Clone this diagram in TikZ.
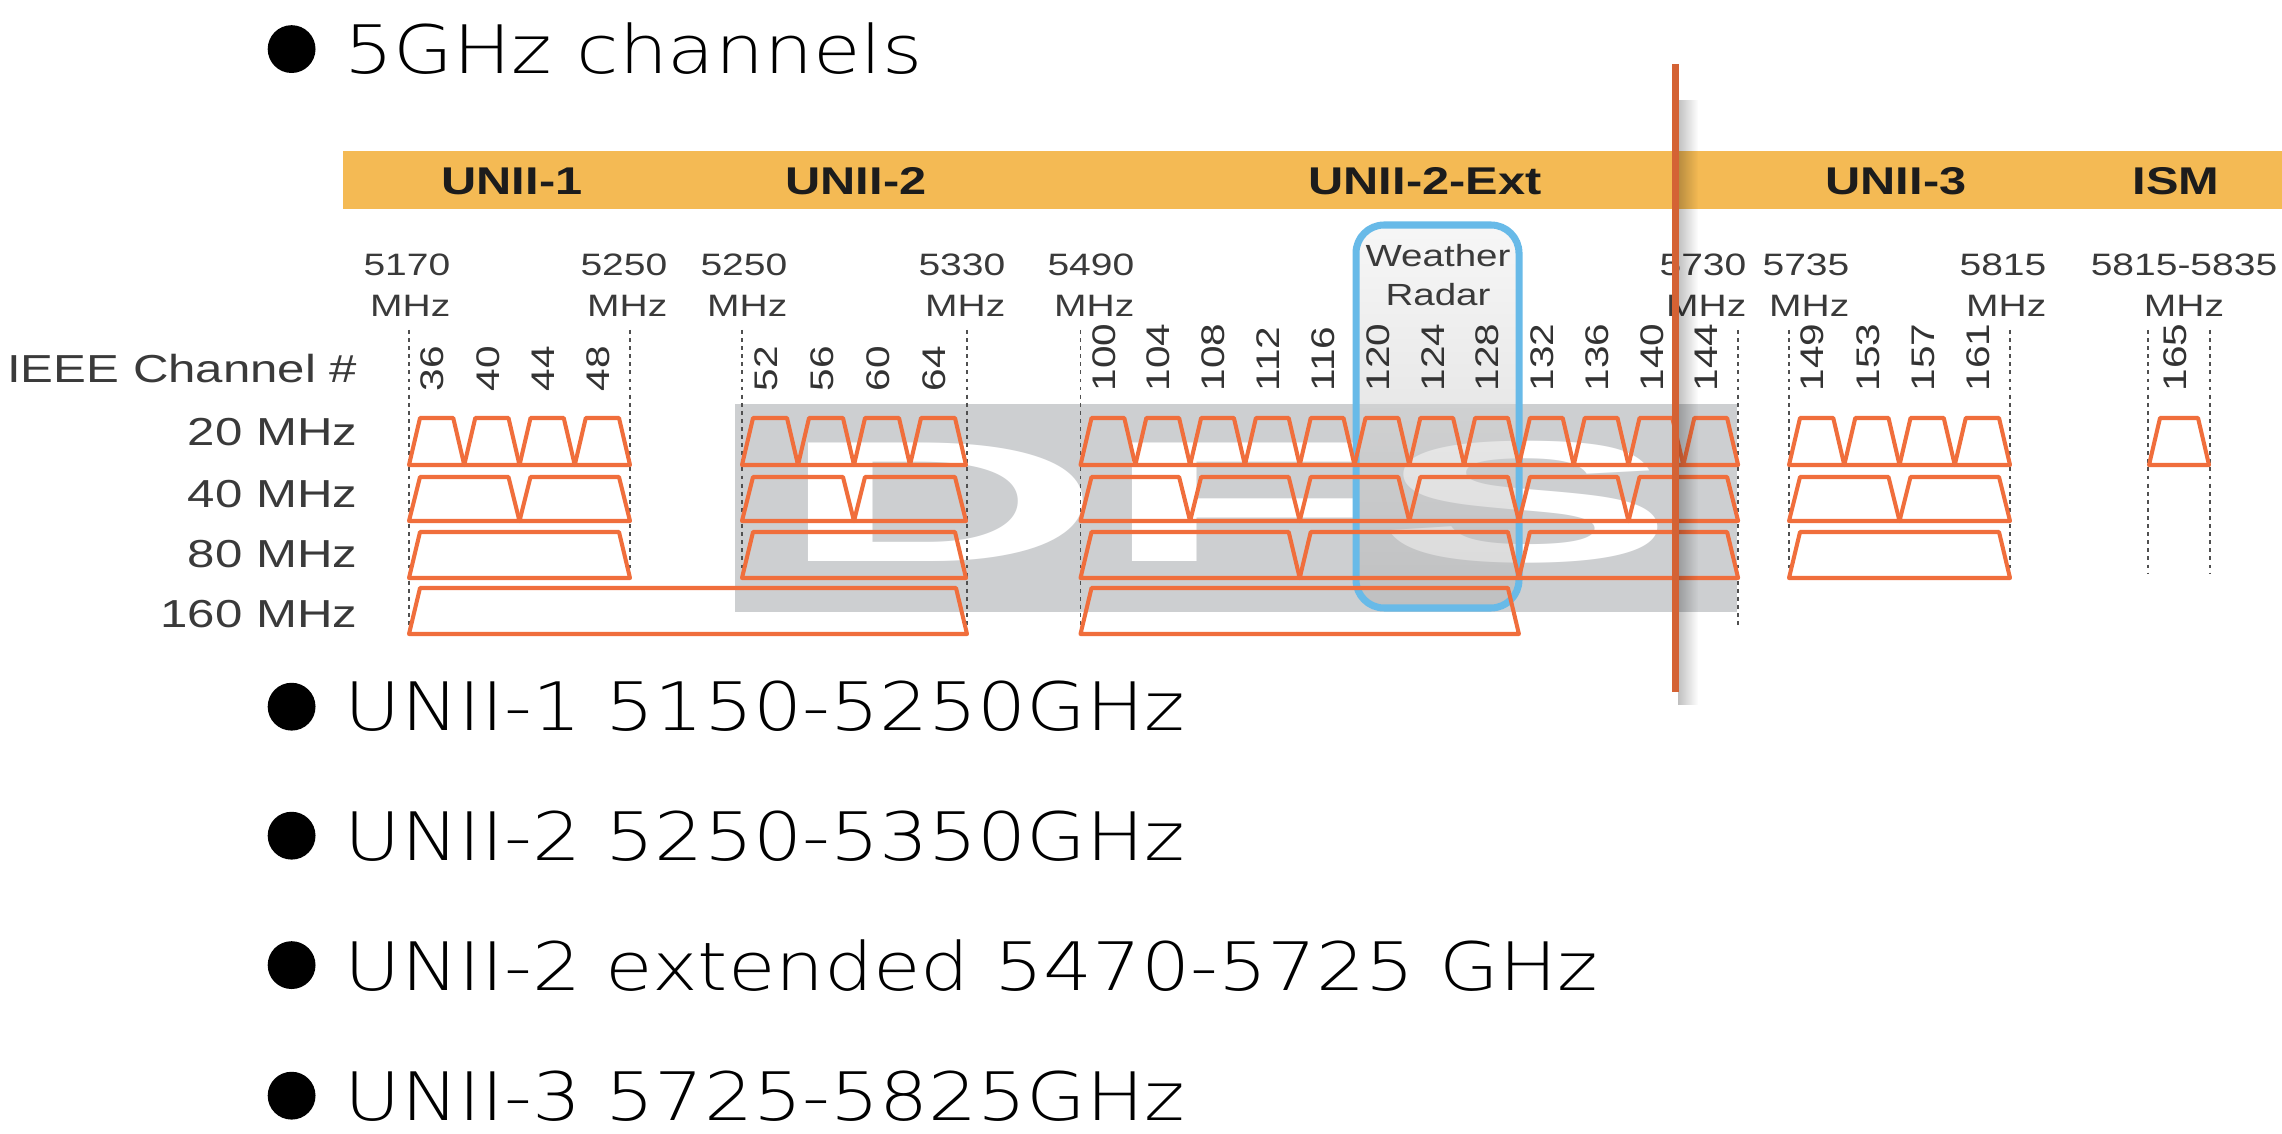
\documentclass[tikz,border=0pt]{standalone}
\usepackage{fontspec}
\setmainfont{Liberation Sans}
\newfontfamily\widefont[FakeStretch=1.26]{Liberation Sans}
\newfontfamily\thinfont[FakeStretch=1.155]{DejaVu Sans ExtraLight}
\newfontfamily\chanfont[FakeStretch=1.24]{Liberation Sans}
\newfontfamily\dfsfont[FakeStretch=2.6]{Liberation Sans}
\usetikzlibrary{positioning,fadings}

\definecolor{bandorange}{RGB}{244,186,84}
\definecolor{chanorange}{RGB}{240,110,60}
\definecolor{markred}{RGB}{212,98,52}
\definecolor{dfsgray}{RGB}{205,207,209}
\definecolor{radarblue}{RGB}{104,186,232}
\definecolor{guidegray}{RGB}{80,80,80}
\definecolor{textgray}{RGB}{58,58,58}
\definecolor{darktext}{RGB}{28,28,28}

\tikzfading[name=shadowfade, left color=transparent!0, right color=transparent!100]

\tikzset{
    chanline/.style={draw=chanorange, line width=1.15pt, line join=round},
    guide/.style={draw=guidegray, line width=0.5pt, dash pattern=on 1.1pt off 1.2pt},
    bandlabel/.style={font=\widefont\bfseries\fontsize{11}{13}\selectfont, text=darktext, inner sep=0pt},
    freqlabel/.style={font=\widefont\fontsize{8.8}{11.7}\selectfont, text=textgray, inner sep=0pt, align=right, anchor=east},
    rowlabel/.style={font=\widefont\fontsize{11.1}{13}\selectfont, text=textgray, inner sep=0pt, anchor=base east},
    chnum/.style={font=\chanfont\fontsize{9.3}{10}\selectfont, text=darktext!90, inner sep=0pt, rotate=90, anchor=west},
    bullettext/.style={font=\thinfont\fontsize{19}{22}\selectfont, text=black, inner sep=0pt, anchor=base west},
    bulletdot/.style={circle, fill=black, inner sep=0pt, minimum size=13.6pt},
}

\newcommand\chanrow[6]{%
    \foreach \k in {1,...,#3} {
        \pgfmathsetmacro\xa{#1+(\k-1)*#4*#2}
        \pgfmathsetmacro\xb{#1+\k*#4*#2}
        \draw[chanline] (\xa,#6) -- (\xa+11,#5) -- (\xb-11,#5) -- (\xb,#6) -- cycle;
    }}
\newcommand\chnums[3]{%
    \foreach \c [count=\k] in {#3}
        \node[chnum] (ch\c) at ({#1+(\k-0.5)*#2-4},392) {\c};}

\begin{document}
\begin{tikzpicture}[x=0.01cm, y=-0.01cm]
    \fill[white] (0,0) rectangle (2282,1134);
    \useasboundingbox (0,0) rectangle (2282,1134);

    \fill[bandorange] (343,151) rectangle (2282,209);
    \node[bandlabel] (unii1) at (512,181) {UNII-1};
    \node[bandlabel] (unii2) at (856,181) {UNII-2};
    \node[bandlabel] (unii2ext) at (1425,181) {UNII-2-Ext};
    \node[bandlabel] (unii3) at (1896,181) {UNII-3};
    \node[bandlabel] (ism) at (2176,181) {ISM};

    \fill[dfsgray] (735,404) rectangle (1737,612);
    \node[font=\dfsfont\bfseries\fontsize{49}{49}\selectfont, text=white, inner sep=0pt, anchor=base] (dfs) at (1227,562) {DFS};

    \draw[draw=radarblue, line width=2pt, rounded corners=8pt, top color=black!6, bottom color=black!30, fill opacity=0.5] (1356,225) rectangle (1519,608);
    \node[freqlabel, align=center, anchor=center, font=\widefont\fontsize{8.7}{11.1}\selectfont] (radar) at (1438,275) {Weather\\Radar};

    \foreach \x/\yb in {409/636, 630/578, 742/578, 967/636, 1080.5/636, 1738/628, 1789/574, 2010/574, 2148/574, 2210/574}
        \draw[guide] (\x,330) -- (\x,\yb);

    \chanrow{409}{55.25}{4}{1}{418}{465}
    \chanrow{409}{55.25}{2}{2}{477}{521}
    \chanrow{409}{55.25}{1}{4}{532}{578}
    \chanrow{409}{69.75}{1}{8}{588}{634}
    \chanrow{742}{56}{4}{1}{418}{465}
    \chanrow{742}{56}{2}{2}{477}{521}
    \chanrow{742}{56}{1}{4}{532}{578}
    \chanrow{1080.5}{54.8}{12}{1}{418}{465}
    \chanrow{1080.5}{54.8}{6}{2}{477}{521}
    \chanrow{1080.5}{54.8}{3}{4}{532}{578}
    \chanrow{1080.5}{54.8}{1}{8}{588}{634}
    \chanrow{1789}{55.25}{4}{1}{418}{465}
    \chanrow{1789}{55.25}{2}{2}{477}{521}
    \chanrow{1789}{55.25}{1}{4}{532}{578}
    \chanrow{2149}{60}{1}{1}{418}{465}

    \chnums{409}{55.25}{36,40,44,48}
    \chnums{742}{56}{52,56,60,64}
    \chnums{1080.5}{54.8}{100,104,108,112,116,120,124,128,132,136,140,144}
    \chnums{1789}{55.25}{149,153,157,161}
    \chnums{2149}{60}{165}

    \foreach \xr/\f [count=\i] in {451/5170, 668/5250, 788/5250, 1006/5330, 1135/5490, 1747/5730, 1850/5735, 2047/5815}
        \node[freqlabel] (freq\i) at (\xr,285) {\f\\MHz};
    \node[freqlabel, align=center, anchor=center] (freqism) at (2184,285) {5815-5835\\MHz};

    \node[rowlabel] (ieee) at (358,383) {IEEE Channel \#};
    \node[rowlabel] (w20) at (358,446) {20 MHz};
    \node[rowlabel] (w40) at (358,508) {40 MHz};
    \node[rowlabel] (w80) at (358,568) {80 MHz};
    \node[rowlabel] (w160) at (358,628) {160 MHz};

    \node[bullettext] (title) at (344,74) {5GHz channels};
    \node[bullettext] (b1) at (344,731) {UNII-1 5150-5250GHz};
    \node[bullettext] (b2) at (344,860) {UNII-2 5250-5350GHz};
    \node[bullettext] (b3) at (344,990) {UNII-2 extended 5470-5725 GHz};
    \node[bullettext] (b4) at (344,1120) {UNII-3 5725-5825GHz};
    \foreach \b in {title,b1,b2,b3,b4}
        \node[bulletdot, left=7.9pt of \b.west] (dot\b) {};

    \coordinate (marktop) at (1675,64);
    \coordinate (markbot) at (1675,692);
    \fill[black, opacity=0.25, path fading=shadowfade] (1678,100) rectangle (1698,705);
    \draw[markred, line width=2pt] (marktop) -- (markbot);
\end{tikzpicture}
\end{document}
